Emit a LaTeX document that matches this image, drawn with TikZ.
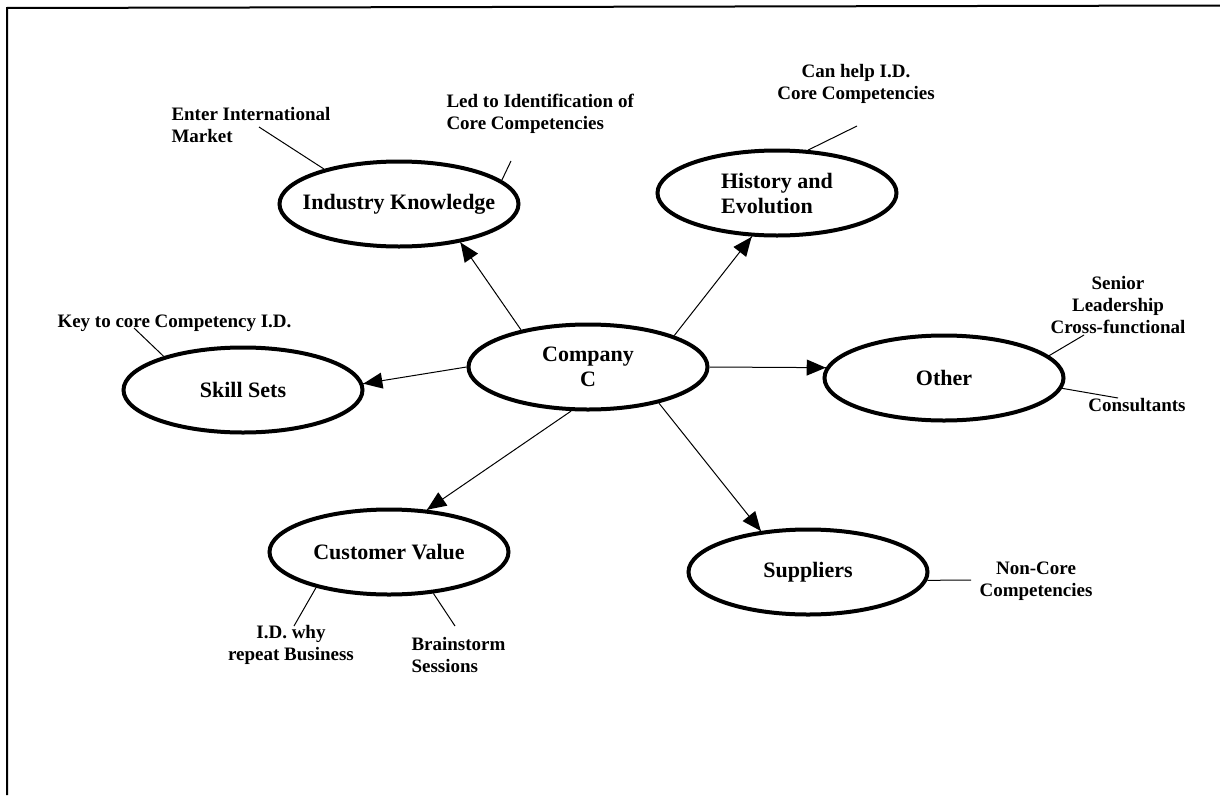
\documentclass[tikz,border=0pt]{standalone}
\usepackage{fontspec}
\setmainfont{Liberation Serif}
\usetikzlibrary{arrows}
\usetikzlibrary{decorations.markings}
\usetikzlibrary{shapes.geometric}
\tikzset{->/.style = {decoration={markings,
                                  mark=at position 1 with {\arrow[scale=2.2]{triangle 45}}},
                      postaction={decorate}}}
\tikzset{topic/.style = {ellipse, draw, line width=4pt, minimum width=239pt,
                         minimum height=85pt, inner sep=0pt, align=center,
                         font=\fontsize{22}{25}\selectfont\bfseries}}
\tikzset{note/.style = {inner sep=0pt, font=\fontsize{19}{22}\selectfont\bfseries}}

\begin{document}
\begin{tikzpicture}[x=1pt, y=-1pt, line width=1pt]
      \useasboundingbox (0, 0) rectangle (1220, 795);
      \draw [line width=2pt] (1220, 5.5) -- (7, 8) -- (7, 795);
      \node [topic] (com) at (588, 367) {Company\\ C};
      \node [topic, inner xsep=-14pt] (ind) at (399, 204) {Industry Knowledge};
      \node [topic, align=left] (his) at (777, 193) {History and\\ Evolution};
      \node [topic] (skl) at (243, 390) {Skill Sets};
      \node [topic] (oth) at (944, 378) {Other};
      \node [topic] (cus) at (389, 552) {Customer Value};
      \node [topic] (sup) at (808, 572) {Suppliers};
      \draw [->] (com.151) -- (ind.-32);
      \draw [->] (com.20) -- (his.240);
      \draw [->] (com.180) -- (skl.3);
      \draw [->] (com.0) -- (oth.175);
      \draw [->] (com.249) -- (cus.48);
      \draw [->] (com.-27) -- (sup.139);
      \node [note, anchor = west, align=left] (intl) at (171, 125) {Enter International\\ Market};
      \node [note, anchor = west, align=left] (lead) at (446, 114) {Led to Identification of\\ Core Competencies};
      \node [note, align=center] (help) at (856, 84) {Can help I.D.\\ Core Competencies};
      \node [note, anchor = west] (key) at (57, 323) {Key to core Competency I.D.};
      \node [note, align=center] (senior) at (1118, 305) {Senior\\ Leadership\\ Cross-functional};
      \node [note] (cons) at (1137, 405) {Consultants};
      \node [note, align=center] (noncore) at (1036, 581) {Non-Core\\ Competencies};
      \node [note, align=center] (idwhy) at (291, 645) {I.D. why\\ repeat Business};
      \node [note, anchor = west, align=left] (brain) at (411, 655) {Brainstorm\\ Sessions};
      \coordinate (intlend) at (259, 127);
      \coordinate (leadend) at (511, 161);
      \coordinate (helpend) at (857, 126);
      \coordinate (keyend) at (134, 328);
      \coordinate (seniorend) at (1084, 335);
      \coordinate (consend) at (1118, 398);
      \coordinate (noncoreend) at (971, 580);
      \coordinate (idwhyend) at (294, 626);
      \coordinate (brainend) at (455, 626);
      \draw (ind.13) -- (leadend);
      \draw (ind.155) -- (intlend);
      \draw (his.54) -- (helpend);
      \draw (skl.157) -- (keyend);
      \draw (oth.12) -- (seniorend);
      \draw (oth.-5) -- (consend);
      \draw (sup.-4) -- (noncoreend);
      \draw (cus.206) -- (idwhyend);
      \draw (cus.-43) -- (brainend);
    \end{tikzpicture}
\end{document}
